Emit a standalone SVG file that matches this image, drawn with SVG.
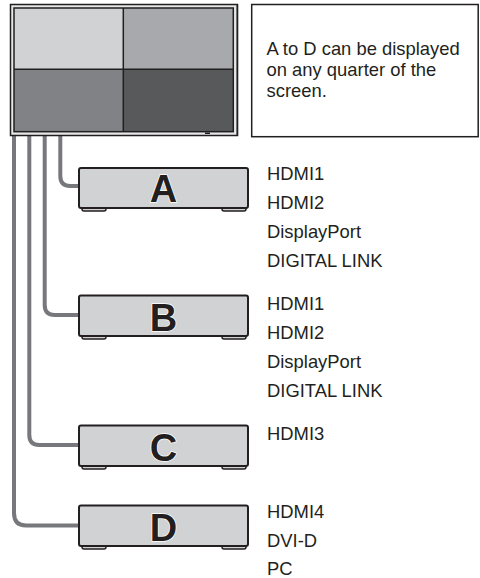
<svg xmlns="http://www.w3.org/2000/svg" width="480" height="578" viewBox="0 0 480 578">
<style>
.lbl{font-family:"Liberation Sans",Arial,sans-serif;font-size:18.4px;fill:#231f20}
.big{font-family:"Liberation Sans",Arial,sans-serif;font-size:38px;font-weight:bold;fill:#231f20;stroke:#ffffff;stroke-width:1.5;paint-order:stroke;text-anchor:middle}
.box{fill:#d1d2d4;stroke:#231f20;stroke-width:2}
.foot{fill:#d1d2d4;stroke:#231f20;stroke-width:1.5}
.cable{fill:none;stroke:#77787b;stroke-width:4}
.q{stroke:#231f20;stroke-width:1.5}
</style>
<g id="connectors">
<path class="cable" d="M60.3,136 V176 Q60.3,186 70.3,186 H80"/>
<path class="cable" d="M44.7,136 V305 Q44.7,315 54.7,315 H80"/>
<path class="cable" d="M29.3,136 V435 Q29.3,445 39.3,445 H80"/>
<path class="cable" d="M14,136 V513 Q14,525.5 26,525.5 H80"/>
</g>
<g id="monitor">
<rect x="10.5" y="4.5" width="227" height="131" fill="#e6e7e8" stroke="#231f20" stroke-width="1.5"/>
<rect x="14" y="8" width="109.3" height="61.3" fill="#d1d2d4"/>
<rect x="123.3" y="8" width="110" height="61.3" fill="#a7a9ac"/>
<rect x="14" y="69.3" width="109.3" height="62.4" fill="#808285"/>
<rect x="123.3" y="69.3" width="110" height="62.4" fill="#58595b"/>
<rect x="14" y="8" width="219.3" height="123.7" fill="none" class="q"/>
<line x1="123.3" y1="8" x2="123.3" y2="131.7" class="q"/>
<line x1="14" y1="69.3" x2="233.3" y2="69.3" class="q"/>
<line x1="237.3" y1="4.5" x2="237.3" y2="136" stroke="#231f20" stroke-width="1.5"/>
<rect x="205" y="132.5" width="5" height="1.5" fill="#231f20"/>
</g>
<g id="note">
<rect x="251.7" y="4.5" width="226.5" height="132.2" fill="#ffffff" stroke="#231f20" stroke-width="1.5"/>
<text class="lbl" x="266.5" y="55">A to D can be displayed</text>
<text class="lbl" x="266.5" y="76">on any quarter of the</text>
<text class="lbl" x="266.5" y="97">screen.</text>
</g>
<g id="deviceA">
<rect class="foot" x="82" y="205" width="24" height="6" rx="2"/>
<rect class="foot" x="222" y="205" width="24" height="6" rx="2"/>
<rect class="box" x="79" y="168" width="169" height="40" rx="2"/>
<text class="big" x="163.5" y="202">A</text>
<text class="lbl" x="267" y="180">HDMI1</text>
<text class="lbl" x="267" y="209">HDMI2</text>
<text class="lbl" x="267" y="238">DisplayPort</text>
<text class="lbl" x="267" y="267">DIGITAL LINK</text>
</g>
<g id="deviceB">
<rect class="foot" x="82" y="333" width="24" height="6" rx="2"/>
<rect class="foot" x="222" y="333" width="24" height="6" rx="2"/>
<rect class="box" x="79" y="295.5" width="169" height="40.5" rx="2"/>
<text class="big" x="163.5" y="331">B</text>
<text class="lbl" x="267" y="310">HDMI1</text>
<text class="lbl" x="267" y="339">HDMI2</text>
<text class="lbl" x="267" y="368">DisplayPort</text>
<text class="lbl" x="267" y="397">DIGITAL LINK</text>
</g>
<g id="deviceC">
<rect class="foot" x="82" y="463" width="24" height="6" rx="2"/>
<rect class="foot" x="222" y="463" width="24" height="6" rx="2"/>
<rect class="box" x="79" y="425.5" width="169" height="40.5" rx="2"/>
<text class="big" x="163.5" y="461">C</text>
<text class="lbl" x="267" y="440">HDMI3</text>
</g>
<g id="deviceD">
<rect class="foot" x="82" y="543" width="24" height="6" rx="2"/>
<rect class="foot" x="222" y="543" width="24" height="6" rx="2"/>
<rect class="box" x="79" y="505.5" width="169" height="40.5" rx="2"/>
<text class="big" x="163.5" y="541">D</text>
<text class="lbl" x="267" y="518">HDMI4</text>
<text class="lbl" x="267" y="547">DVI-D</text>
<text class="lbl" x="267" y="575">PC</text>
</g>
</svg>
